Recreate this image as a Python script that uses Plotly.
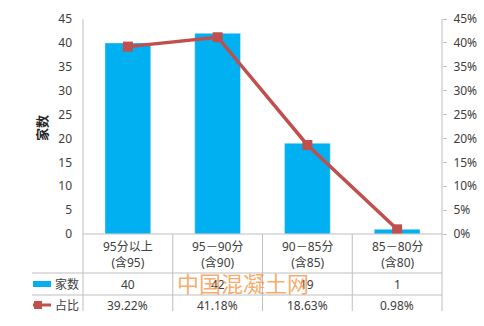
import plotly.graph_objects as go

categories = ["95分以上<br>(含95)", "95－90分<br>(含90)", "90－85分<br>(含85)", "85－80分<br>(含80)"]
counts = [40, 42, 19, 1]
shares = [39.22, 41.18, 18.63, 0.98]
share_labels = ["39.22%", "41.18%", "18.63%", "0.98%"]
left_ticks = [0, 5, 10, 15, 20, 25, 30, 35, 40, 45]
right_ticks = [0, 5, 10, 15, 20, 25, 30, 35, 40, 45]
right_tick_labels = ["0%", "5%", "10%", "15%", "20%", "25%", "30%", "35%", "40%", "45%"]
series_names = ["家数", "占比"]
axis_title = "家数"
watermark = "中国混凝土网"

W, H = 484, 326
L, R, T, B = 83, 442, 19, 234
FONT = "Noto Sans, Noto Sans CJK SC, sans-serif"
TXT = "#404040"
GRID = "#BFBFBF"
BLUE = "#00B0F0"
RED = "#C0504D"


def X(px):
    return (px - L) / (R - L)


def Y(py):
    return (B - py) / (B - T)


xs = list(range(len(categories)))

fig = go.Figure()
fig.add_trace(go.Bar(x=xs, y=counts, marker_color=BLUE, width=0.51, name=series_names[0]))
fig.add_trace(go.Scatter(x=xs, y=shares, yaxis="y2", mode="lines+markers",
                         line=dict(color=RED, width=3.5),
                         marker=dict(symbol="square", size=10, color=RED),
                         name=series_names[1]))

shapes = []
for px in (L, R):
    shapes.append(dict(type="line", xref="paper", yref="paper", x0=X(px), x1=X(px),
                       y0=Y(T), y1=Y(311), line=dict(color=GRID, width=1)))
for i in range(1, 4):
    px = L + i * (R - L) / 4
    shapes.append(dict(type="line", xref="paper", yref="paper", x0=X(px), x1=X(px),
                       y0=Y(B), y1=Y(311), line=dict(color=GRID, width=1)))
shapes.append(dict(type="line", xref="paper", yref="paper", x0=X(L), x1=X(R),
                   y0=Y(B), y1=Y(B), line=dict(color=GRID, width=1)))
for py in (273, 295):
    shapes.append(dict(type="line", xref="paper", yref="paper", x0=X(32), x1=X(R),
                       y0=Y(py), y1=Y(py), line=dict(color=GRID, width=1)))
shapes.append(dict(type="rect", xref="paper", yref="paper", x0=X(33), x1=X(51),
                   y0=Y(281), y1=Y(287), fillcolor=BLUE, line=dict(width=0)))
shapes.append(dict(type="line", xref="paper", yref="paper", x0=X(33), x1=X(51),
                   y0=Y(305), y1=Y(305), line=dict(color=RED, width=3)))
shapes.append(dict(type="rect", xref="paper", yref="paper", x0=X(34), x1=X(42),
                   y0=Y(301), y1=Y(309), fillcolor=RED, line=dict(width=0)))


def txt(x, xref, py, text, size=12, color=TXT, xanchor="center", **kw):
    return dict(x=x, xref=xref, xanchor=xanchor, y=Y(py), yref="paper", yanchor="middle",
                text=text, showarrow=False, font=dict(size=size, color=color, family=FONT), **kw)


ann = []
for i, c in enumerate(categories):
    ann.append(txt(i, "x", 254, c, align="center"))
    ann.append(txt(i, "x", 284, str(counts[i])))
    ann.append(txt(i, "x", 305, share_labels[i]))
ann.append(txt(X(53), "paper", 284, series_names[0], xanchor="left"))
ann.append(txt(X(53), "paper", 305, series_names[1], xanchor="left"))
ann.append(txt(X(42), "paper", 128, "<b>" + axis_title + "</b>", size=13, color="#262626", textangle=-90))
ann.append(txt(X(242.5), "paper", 283, watermark, size=22, color="rgba(245,150,70,0.8)"))

fig.update_layout(
    width=W, height=H,
    margin=dict(l=L, r=W - R, t=T, b=H - B, autoexpand=False),
    paper_bgcolor="white", plot_bgcolor="white",
    showlegend=False,
    font=dict(family=FONT, size=12, color=TXT),
    xaxis=dict(range=[-0.5, 3.5], showticklabels=False, showgrid=False, zeroline=False,
               showline=False, ticks="", fixedrange=True),
    yaxis=dict(range=[0, 45], tickvals=left_ticks, showgrid=False, zeroline=False,
               showline=False, ticks="", ticklabelstandoff=10,
               tickfont=dict(size=12, color=TXT)),
    yaxis2=dict(range=[0, 45], tickmode="array", tickvals=right_ticks, ticktext=right_tick_labels,
                overlaying="y", side="right",
                showgrid=False, zeroline=False, showline=False, ticks="outside", ticklen=4,
                tickcolor=GRID, ticklabelstandoff=4, tickfont=dict(size=12, color=TXT)),
    shapes=shapes,
    annotations=ann,
)

fig.write_html("out.html")
